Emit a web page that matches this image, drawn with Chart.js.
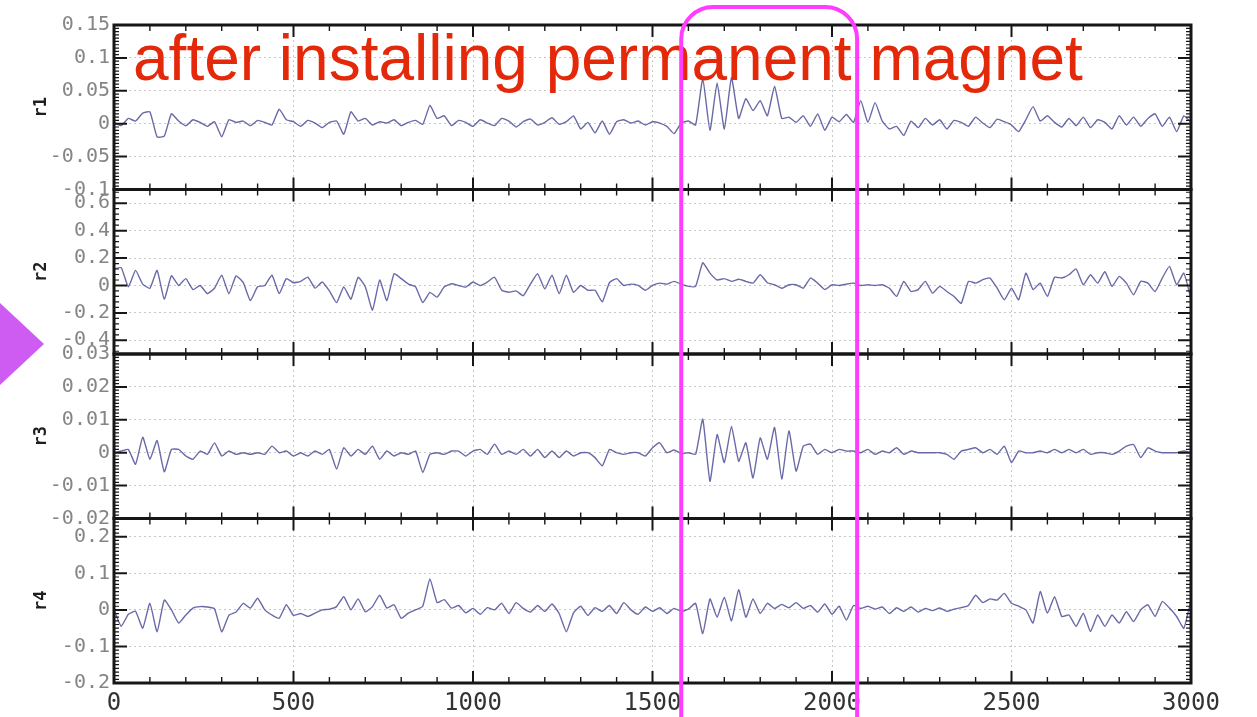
<!DOCTYPE html>
<html>
<head>
<meta charset="utf-8">
<title>r1–r4 after installing permanent magnet</title>
<script src="https://cdn.jsdelivr.net/npm/chart.js@4.4.1/dist/chart.umd.min.js"></script>
<style>
  html, body { margin: 0; padding: 0; background: #ffffff; overflow: hidden; }
  canvas { display: block; }
</style>
</head>
<body>
<canvas id="chart" width="1257" height="717"></canvas>
<script>
// Sample spacing along the x axis (samples are taken at 0, 20, 40, ... 3000)
const SAMPLE_STEP = 20;

// r1 residual
const r1 = [
  0.002, -0.003, 0.008, 0.004, 0.016, 0.018, -0.02, -0.019, 0.015, 0.004,
  -0.003, 0.006, 0.002, -0.004, 0.003, -0.02, 0.006, 0.002, 0.004, -0.003,
  0.005, 0.002, -0.002, 0.022, 0.006, 0.003, -0.004, 0.005, 0.001, -0.006,
  0.002, 0.004, -0.016, 0.018, 0.004, 0.008, -0.002, 0.003, 0.001, 0.006,
  -0.003, 0.002, 0.005, -0.001, 0.028, 0.008, 0.012, -0.003, 0.005, 0.002,
  -0.004, 0.006, 0.001, -0.003, 0.008, 0.004, -0.005, 0.003, 0.007, -0.002,
  0.002, 0.009, -0.001, 0.003, 0.012, -0.008, 0.002, -0.014, 0.004, -0.016,
  0.003, 0.006, 0.001, 0.004, -0.002, 0.003, 0.001, -0.004, -0.015, 0.001,
  0.004, -0.002, 0.068, -0.01, 0.062, -0.008, 0.07, 0.008, 0.038, 0.02,
  0.035, 0.012, 0.057, 0.008, 0.01, 0.002, 0.012, -0.004, 0.015, -0.01,
  0.01, 0.003, 0.014, 0.002, 0.035, 0.002, 0.032, 0.004, -0.008, -0.004,
  -0.018, 0.004, -0.006, 0.008, -0.002, 0.006, -0.008, 0.005, 0.002, -0.004,
  0.01, 0.001, -0.006, 0.007, 0.003, -0.002, -0.012, 0.006, 0.026, 0.004,
  0.012, 0.002, -0.005, 0.008, -0.003, 0.01, -0.006, 0.006, 0.002, -0.008,
  0.012, -0.002, 0.01, -0.004, 0.008, 0.015, -0.004, 0.01, -0.012, 0.012,
  0.002
];

// r2 residual
const r2 = [
  0.12, 0.13, -0.01, 0.11, 0.01, -0.02, 0.11, -0.1, 0.07, 0.0,
  0.05, -0.03, 0.0, -0.06, -0.02, 0.075, -0.06, 0.07, 0.02, -0.11,
  -0.01, 0.0, 0.075, -0.06, 0.05, 0.02, 0.03, 0.06, -0.02, 0.025,
  -0.04, -0.125, -0.01, -0.1, 0.06, -0.01, -0.18, 0.04, -0.11, 0.085,
  0.05, 0.01, -0.01, -0.125, -0.05, -0.085, -0.01, 0.012, 0.0, -0.012,
  0.025, 0.0, 0.025, 0.06, -0.035, -0.05, -0.04, -0.075, 0.01, 0.085,
  -0.025, 0.075, -0.06, 0.075, -0.05, 0.0, -0.035, -0.035, -0.12, 0.02,
  0.05, 0.0, 0.01, 0.0, -0.035, 0.0, 0.017, 0.01, 0.03, 0.01,
  -0.007, -0.007, 0.165, 0.09, 0.04, 0.05, 0.03, 0.045, 0.03, 0.017,
  0.078, 0.02, 0.005, -0.02, 0.005, 0.005, -0.02, 0.054, 0.017, -0.03,
  0.005, 0.0, 0.01, 0.017, 0.0, 0.005, 0.0, 0.005, -0.02, -0.08,
  0.03, -0.044, -0.03, 0.03, -0.056, -0.007, -0.044, -0.08, -0.13, 0.03,
  0.017, 0.042, 0.054, -0.02, -0.105, -0.02, -0.105, 0.09, -0.03, 0.017,
  -0.08, 0.06, 0.054, 0.078, 0.12, 0.005, 0.078, 0.017, 0.1, -0.007,
  0.066, 0.017, -0.068, 0.03, 0.017, -0.044, 0.054, 0.139, 0.005, 0.09,
  -0.1
];

// r3 residual
const r3 = [
  0, 0.0005, 0.001, -0.0035, 0.0047, -0.002, 0.0037, -0.0058, 0.001, 0.001,
  -0.001, -0.002, 0.0005, -0.0005, 0.003, -0.001, 0.0005, -0.0005, 0, -0.0005,
  0, -0.0005, 0.002, 0, 0.0005, -0.001, 0, -0.001, 0.0005, -0.0005,
  0.001, -0.005, 0.0015, -0.001, 0.001, -0.0005, 0.002, -0.002, 0.0005, -0.001,
  0, -0.0005, 0.0005, -0.006, -0.0005, 0, -0.0005, 0.0005, 0.0005, -0.001,
  0.0005, 0.001, -0.0005, 0.0026, -0.0005, 0.0005, -0.0005, 0.001, -0.001, 0.001,
  -0.0015, 0.0005, -0.0015, 0.0005, -0.001, 0, 0, -0.0015, -0.004, 0.001,
  0, -0.0005, 0, 0, -0.001, 0.0015, 0.003, 0, 0.0008, -0.0003,
  0, -0.0005, 0.0102, -0.0087, 0.0055, -0.003, 0.008, -0.0026, 0.003, -0.0077,
  0.0045, -0.002, 0.0077, -0.008, 0.0066, -0.0056, 0.002, 0.0026, -0.0005, 0.001,
  0, 0.001, 0.0005, 0.0005, 0, 0.001, -0.0005, 0.0005, 0, 0.0015,
  -0.0005, 0.0005, 0, 0, 0, 0, -0.0005, -0.002, 0.0005, 0.001,
  0.0015, 0, 0.001, -0.0005, 0.002, -0.003, 0.0005, 0, 0, 0.0005,
  0, 0.001, 0, 0.001, 0, 0.001, -0.0005, 0, 0, -0.0005,
  0.0005, 0.002, 0.0025, -0.0015, 0.0015, 0.0005, 0, 0, 0, 0.0005,
  0
];

// r4 residual
const r4 = [
  0, -0.045, -0.012, -0.004, -0.05, 0.018, -0.06, 0.027, 0.0, -0.036,
  -0.014, 0.005, 0.009, 0.008, 0.003, -0.06, -0.015, -0.006, 0.018, 0.005,
  0.032, 0, -0.014, -0.023, 0.014, -0.015, -0.01, -0.018, -0.009, 0,
  0.002, 0.009, 0.036, 0.0, 0.03, -0.005, 0.009, 0.04, 0.005, 0.014,
  -0.023, -0.009, 0, 0.01, 0.085, 0.02, 0.028, 0.005, 0.012, -0.008,
  0.004, -0.012, 0.006, 0.0, 0.018, -0.01, 0.02, 0.004, -0.006, 0.012,
  -0.004, 0.016, -0.01, -0.06, -0.008, 0.01, -0.015, 0.006, -0.004, 0.012,
  -0.01, 0.02, 0.0, -0.012, 0.008, -0.004, 0.006, -0.01, 0.004, -0.004,
  0.002, 0.018, -0.065, 0.03, -0.02, 0.035, -0.03, 0.055, -0.02, 0.03,
  -0.01, 0.018, 0.004, 0.015, 0.006, 0.02, 0.004, 0.012, -0.006, 0.016,
  -0.012, 0.01, -0.028, 0.012, 0.004, 0.01, 0.002, 0.008, -0.01, 0.006,
  -0.004, 0.008, -0.006, 0.004, -0.002, 0.005, -0.004, 0.002, 0.006, 0.012,
  0.04, 0.02, 0.03, 0.027, 0.045, 0.018, 0.01, 0, -0.036, 0.05,
  -0.009, 0.036, -0.018, -0.014, -0.045, -0.009, -0.059, -0.014, -0.045, -0.014,
  -0.036, -0.005, -0.032, 0, 0.014, -0.018, 0.023, 0.005, -0.018, -0.05,
  0.027
];

// Tick values and their labels
const xTicks = [0, 500, 1000, 1500, 2000, 2500, 3000];
const r1Ticks = [-0.1, -0.05, 0, 0.05, 0.1, 0.15];
const r1TickLabels = ['-0.1', '-0.05', '0', '0.05', '0.1', '0.15'];
const r2Ticks = [-0.4, -0.2, 0, 0.2, 0.4, 0.6];
const r2TickLabels = ['-0.4', '-0.2', '0', '0.2', '0.4', '0.6'];
const r3Ticks = [-0.02, -0.01, 0, 0.01, 0.02, 0.03];
const r3TickLabels = ['-0.02', '-0.01', '0', '0.01', '0.02', '0.03'];
const r4Ticks = [-0.2, -0.1, 0, 0.1, 0.2];
const r4TickLabels = ['-0.2', '-0.1', '0', '0.1', '0.2'];

// Overlay annotation
const annotationText = 'after installing permanent magnet';
const highlightRange = [1580, 2070];

// Stacked panels, top to bottom
const panels = [
  { id: 'r1', values: r1, min: -0.1, max: 0.15, ticks: r1Ticks, labels: r1TickLabels, minor: 0.005, order: 4 },
  { id: 'r2', values: r2, min: -0.5, max: 0.7,  ticks: r2Ticks, labels: r2TickLabels, minor: 0.04,  order: 3 },
  { id: 'r3', values: r3, min: -0.02, max: 0.03, ticks: r3Ticks, labels: r3TickLabels, minor: 0.001, order: 2 },
  { id: 'r4', values: r4, min: -0.2, max: 0.25, ticks: r4Ticks, labels: r4TickLabels, minor: 0.01,  order: 1 }
];

const LINE_COLOR = 'rgba(84, 84, 156, 0.88)';
const GRID_COLOR = '#c8c8c8';
const FRAME_COLOR = '#161616';

const datasets = panels.map(p => ({
  label: p.id,
  data: p.values.map((v, i) => ({ x: i * SAMPLE_STEP, y: v })),
  yAxisID: p.id,
  xAxisID: 'x',
  borderColor: LINE_COLOR,
  borderWidth: 1.4,
  pointRadius: 0,
  tension: 0.15,
  fill: false
}));

const scales = {
  x: {
    type: 'linear',
    position: 'bottom',
    min: 0,
    max: 3000,
    afterBuildTicks: s => { s.ticks = xTicks.map(v => ({ value: v })); },
    afterFit: s => { s.height = 34; },
    ticks: {
      autoSkip: false,
      maxRotation: 0,
      padding: 6,
      color: '#333333',
      font: { family: 'DejaVu Sans Mono', size: 24 },
      callback: v => String(v)
    },
    grid: { color: GRID_COLOR, lineWidth: 1, drawTicks: false },
    border: { display: false, dash: [2, 3] }
  }
};

panels.forEach(p => {
  scales[p.id] = {
    type: 'linear',
    position: 'left',
    stack: 'panels',
    stackWeight: 1,
    weight: p.order,
    min: p.min,
    max: p.max,
    afterBuildTicks: s => { s.ticks = p.ticks.map(v => ({ value: v })); },
    afterFit: s => { s.width = 114; },
    ticks: {
      autoSkip: false,
      padding: 4,
      color: '#858585',
      font: { family: 'DejaVu Sans Mono', size: 20 },
      callback: v => {
        const k = p.ticks.indexOf(v);
        return k >= 0 ? p.labels[k] : '';
      }
    },
    grid: { color: GRID_COLOR, lineWidth: 1, drawTicks: false },
    border: { display: false, dash: [2, 3] },
    title: {
      display: true,
      text: p.id,
      color: '#1e1e1e',
      font: { family: 'DejaVu Sans Mono', size: 17, weight: 'bold' },
      padding: { top: 31, bottom: 0 }
    }
  };
});

// Panel frames with inward ticks on every edge
const panelFrames = {
  id: 'panelFrames',
  afterDatasetsDraw(chart) {
    const { ctx, chartArea: a, scales: sc } = chart;
    const xs = sc.x;
    ctx.save();
    ctx.strokeStyle = FRAME_COLOR;
    panels.forEach(p => {
      const s = sc[p.id];
      const top = s.top, bottom = s.bottom;

      // x ticks: minor every 100, major every 500
      for (let v = 0; v <= 3000; v += 100) {
        const major = v % 500 === 0;
        const px = xs.getPixelForValue(v);
        const len = major ? 12 : 6;
        ctx.lineWidth = major ? 2 : 1.4;
        ctx.beginPath();
        ctx.moveTo(px, top); ctx.lineTo(px, top + len);
        ctx.moveTo(px, bottom); ctx.lineTo(px, bottom - len);
        ctx.stroke();
      }

      // y ticks on both sides
      const t0 = p.ticks[0];
      const kStart = Math.ceil((p.min - t0) / p.minor - 1e-6);
      const kEnd = Math.floor((p.max - t0) / p.minor + 1e-6);
      for (let k = kStart; k <= kEnd; k++) {
        const v = t0 + k * p.minor;
        const major = p.ticks.some(t => Math.abs(t - v) < p.minor / 10);
        const py = s.getPixelForValue(v);
        const len = major ? 13 : 5;
        ctx.lineWidth = major ? 2 : 1.2;
        ctx.beginPath();
        ctx.moveTo(a.left, py); ctx.lineTo(a.left + len, py);
        ctx.moveTo(a.right, py); ctx.lineTo(a.right - len, py);
        ctx.stroke();
      }

      ctx.lineWidth = 3;
      ctx.strokeRect(a.left, top, a.right - a.left, bottom - top);
    });
    ctx.restore();
  }
};

// Caption, highlight box and side marker
const overlay = {
  id: 'overlay',
  afterDraw(chart) {
    const { ctx, scales: sc } = chart;
    ctx.save();

    ctx.fillStyle = '#e4280a';
    ctx.font = '64px "Liberation Sans", Arial, sans-serif';
    ctx.textBaseline = 'alphabetic';
    ctx.textAlign = 'left';
    ctx.fillText(annotationText, 133, 80);

    const x0 = sc.x.getPixelForValue(highlightRange[0]);
    const x1 = sc.x.getPixelForValue(highlightRange[1]);
    const top = 7, r = 32, bottom = chart.height + 20;
    ctx.strokeStyle = '#ff3cff';
    ctx.lineWidth = 4;
    ctx.beginPath();
    ctx.moveTo(x0, bottom);
    ctx.lineTo(x0, top + r);
    ctx.arcTo(x0, top, x0 + r, top, r);
    ctx.lineTo(x1 - r, top);
    ctx.arcTo(x1, top, x1, top + r, r);
    ctx.lineTo(x1, bottom);
    ctx.stroke();

    ctx.fillStyle = '#cf5cf2';
    ctx.beginPath();
    ctx.moveTo(0, 303);
    ctx.lineTo(44, 344);
    ctx.lineTo(0, 385);
    ctx.closePath();
    ctx.fill();

    ctx.restore();
  }
};

new Chart(document.getElementById('chart'), {
  type: 'line',
  data: { datasets },
  options: {
    responsive: false,
    animation: false,
    devicePixelRatio: 1,
    layout: { padding: { top: 25, right: 66, bottom: 0, left: 0 } },
    plugins: { legend: { display: false }, tooltip: { enabled: false } },
    scales
  },
  plugins: [panelFrames, overlay]
});
</script>
</body>
</html>
